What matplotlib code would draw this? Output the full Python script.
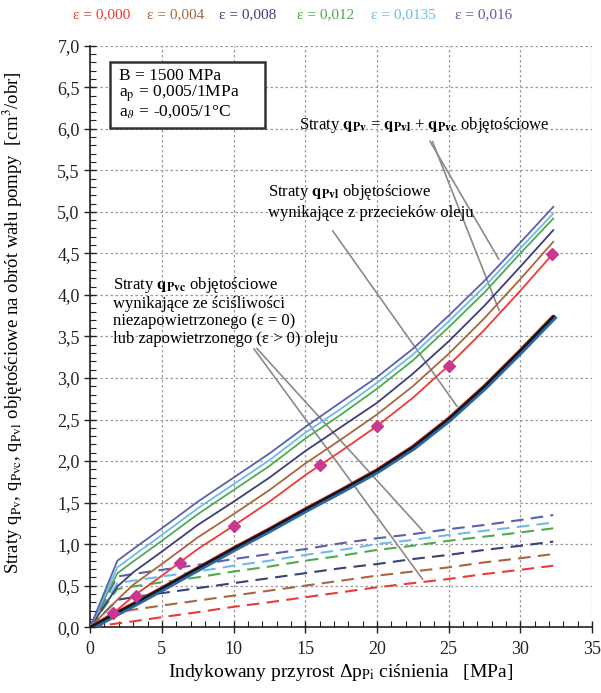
import matplotlib
matplotlib.use('Agg')
import matplotlib.pyplot as plt
import matplotlib.transforms as mtransforms
from matplotlib.patches import Rectangle
from matplotlib.ticker import MultipleLocator, FuncFormatter

plt.rcParams['font.family'] = ['Liberation Serif', 'DejaVu Serif']
plt.rcParams['mathtext.fontset'] = 'stix'

# pressure increase [MPa]
x = [0, 1.9, 3, 5, 7.5, 10, 12.5, 15, 17.5, 20, 22.5, 25, 27.5, 30, 32.3]

# leakage losses q_Pvl (thick line)
q_vl = [0, 0.18, 0.28, 0.47, 0.71, 0.95, 1.18, 1.42, 1.65, 1.89, 2.17, 2.51, 2.90, 3.33, 3.74]

# compressibility losses q_Pvc (dashed), one per epsilon
eps_labels = ['ε = 0,000', 'ε = 0,004', 'ε = 0,008', 'ε = 0,012', 'ε = 0,0135', 'ε = 0,016']
eps_colors = ['#ee3a36', '#a8663e', '#3c3f78', '#4faa4c', '#6fbbe8', '#5a5fae']
q_vc = [
    [0, 0.045, 0.07, 0.12, 0.18, 0.245, 0.30, 0.36, 0.42, 0.48, 0.53, 0.58, 0.64, 0.69, 0.74],
    [0, 0.18, 0.21, 0.26, 0.32, 0.38, 0.44, 0.50, 0.56, 0.62, 0.67, 0.72, 0.78, 0.83, 0.88],
    [0, 0.33, 0.36, 0.41, 0.47, 0.53, 0.59, 0.65, 0.71, 0.76, 0.82, 0.87, 0.93, 0.98, 1.03],
    [0, 0.46, 0.49, 0.54, 0.60, 0.67, 0.73, 0.80, 0.86, 0.93, 0.98, 1.04, 1.09, 1.14, 1.19],
    [0, 0.53, 0.56, 0.61, 0.67, 0.74, 0.80, 0.87, 0.93, 1.00, 1.05, 1.11, 1.16, 1.21, 1.26],
    [0, 0.61, 0.64, 0.69, 0.75, 0.82, 0.88, 0.94, 1.01, 1.07, 1.12, 1.18, 1.23, 1.29, 1.35],
]

# total losses q_Pv (solid), one per epsilon
q_v = [
    [0, 0.21, 0.37, 0.62, 0.94, 1.22, 1.51, 1.83, 2.12, 2.42, 2.76, 3.15, 3.58, 4.05, 4.50],
    [0, 0.33, 0.51, 0.76, 1.08, 1.36, 1.65, 1.97, 2.26, 2.56, 2.90, 3.29, 3.72, 4.19, 4.64],
    [0, 0.49, 0.66, 0.91, 1.23, 1.51, 1.80, 2.12, 2.41, 2.70, 3.05, 3.44, 3.87, 4.34, 4.78],
    [0, 0.65, 0.79, 1.04, 1.36, 1.65, 1.94, 2.27, 2.56, 2.87, 3.21, 3.61, 4.03, 4.50, 4.92],
    [0, 0.72, 0.86, 1.11, 1.43, 1.72, 2.01, 2.34, 2.63, 2.94, 3.28, 3.68, 4.10, 4.56, 4.98],
    [0, 0.80, 0.94, 1.19, 1.51, 1.80, 2.09, 2.41, 2.71, 3.01, 3.35, 3.75, 4.17, 4.63, 5.06],
]

# measured points (eps = 0)
x_pts = [1.6, 3.2, 6.3, 10, 16, 20, 25, 32.2]
y_pts = [0.17, 0.37, 0.77, 1.22, 1.95, 2.42, 3.15, 4.49]

fig = plt.figure(figsize=(6.01, 6.93), dpi=100)
ax = fig.add_axes([0.150, 0.095, 0.835, 0.839])

for i in range(len(eps_labels)):
    ax.plot(x, q_vc[i], color=eps_colors[i], lw=1.5, dashes=(6, 3.5), zorder=3)
    ax.plot(x, q_v[i], color=eps_colors[i], lw=1.3, zorder=4)

# thick leakage line: blue under black with thin red edge
off_lo = mtransforms.offset_copy(ax.transData, fig=fig, x=0.9, y=-0.9, units='points')
off_hi = mtransforms.offset_copy(ax.transData, fig=fig, x=-0.6, y=0.6, units='points')
ax.plot(x, q_vl, color='#2b67a8', lw=3.2, transform=off_lo, zorder=5)
ax.plot(x, q_vl, color='#ee3a36', lw=1.2, transform=off_hi, zorder=5)
ax.plot(x, q_vl, color='#151515', lw=1.8, zorder=6)

ax.plot(x_pts, y_pts, ls='none', marker='D', ms=6, color='#c8388f', zorder=7)

ax.set_xlim(0, 35)
ax.set_ylim(0, 7)
ax.xaxis.set_major_locator(MultipleLocator(5))
ax.xaxis.set_minor_locator(MultipleLocator(1))
ax.yaxis.set_major_locator(MultipleLocator(0.5))
ax.yaxis.set_minor_locator(MultipleLocator(0.1))
ax.yaxis.set_major_formatter(FuncFormatter(lambda v, p: ('%.1f' % v).replace('.', ',')))
ax.tick_params(which='major', direction='inout', length=8, width=1, labelsize=13, colors='#222222')
ax.tick_params(which='minor', direction='in', length=4, width=0.8, colors='#222222')
ax.tick_params(axis='x', pad=6)
for s in ['top', 'right']:
    ax.spines[s].set_visible(False)
for s in ['left', 'bottom']:
    ax.spines[s].set_linewidth(1.2)
    ax.spines[s].set_color('#222222')
ax.grid(True, which='major', color='#9a9a9a', ls=(0, (2, 2)), lw=0.9)
ax.set_axisbelow(True)

ax.set_xlabel('Indykowany przyrost Δp$_{\\mathrm{Pi}}$ ciśnienia   [MPa]', fontsize=14, labelpad=3)
fig.text(0.022, 0.535, 'Straty q$_{\\mathrm{Pv}}$, q$_{\\mathrm{Pvc}}$, q$_{\\mathrm{Pvl}}$ objętościowe na obrót wału pompy  [cm$^3$/obr]',
         rotation=90, ha='center', va='center', fontsize=13.5)

# colour legend on top
leg_x = [0.121, 0.245, 0.364, 0.494, 0.617, 0.757]
for i in range(len(eps_labels)):
    fig.text(leg_x[i], 0.979, eps_labels[i], color=eps_colors[i], fontsize=11, va='center')

# parameters box
ax.add_patch(Rectangle((1.40, 6.01), 10.8, 0.79, fc='white', ec='#333333', lw=1.8, zorder=8))
ax.text(2.0, 6.73, 'B = 1500 MPa\na$_{\\mathrm{p}}$ = 0,005/1MPa\na$_{\\vartheta}$ = -0,005/1°C',
        fontsize=12.5, va='top', linespacing=0.95, zorder=9)

# annotations
ann_kw = dict(color='#8a8a8a', lw=1.2)
ax.text(14.6, 6.05, 'Straty $\\mathbf{q_{Pv}}$ = $\\mathbf{q_{Pvl}}$ + $\\mathbf{q_{Pvc}}$ objętościowe',
        fontsize=12, va='center')
ax.annotate('', xy=(28.6, 4.40), xytext=(23.6, 5.88), arrowprops=dict(arrowstyle='-', **ann_kw))
ax.annotate('', xy=(28.6, 3.78), xytext=(23.8, 5.88), arrowprops=dict(arrowstyle='-', **ann_kw))

ax.text(12.4, 5.12, 'Straty $\\mathbf{q_{Pvl}}$ objętościowe\nwynikające z przecieków oleju',
        fontsize=12, va='center', linespacing=1.25)
ax.annotate('', xy=(25.7, 2.63), xytext=(16.8, 4.80), arrowprops=dict(arrowstyle='-', **ann_kw))

ax.text(1.6, 3.81, 'Straty $\\mathbf{q_{Pvc}}$ objętościowe\nwynikające ze ściśliwości\nniezapowietrzonego (ε = 0)\nlub zapowietrzonego (ε > 0) oleju',
        fontsize=12, va='center', linespacing=1.12)
ax.annotate('', xy=(23.3, 1.14), xytext=(11.5, 3.38), arrowprops=dict(arrowstyle='-', **ann_kw))
ax.annotate('', xy=(23.3, 0.55), xytext=(11.3, 3.38), arrowprops=dict(arrowstyle='-', **ann_kw))

fig.savefig('out.png', dpi=100)
